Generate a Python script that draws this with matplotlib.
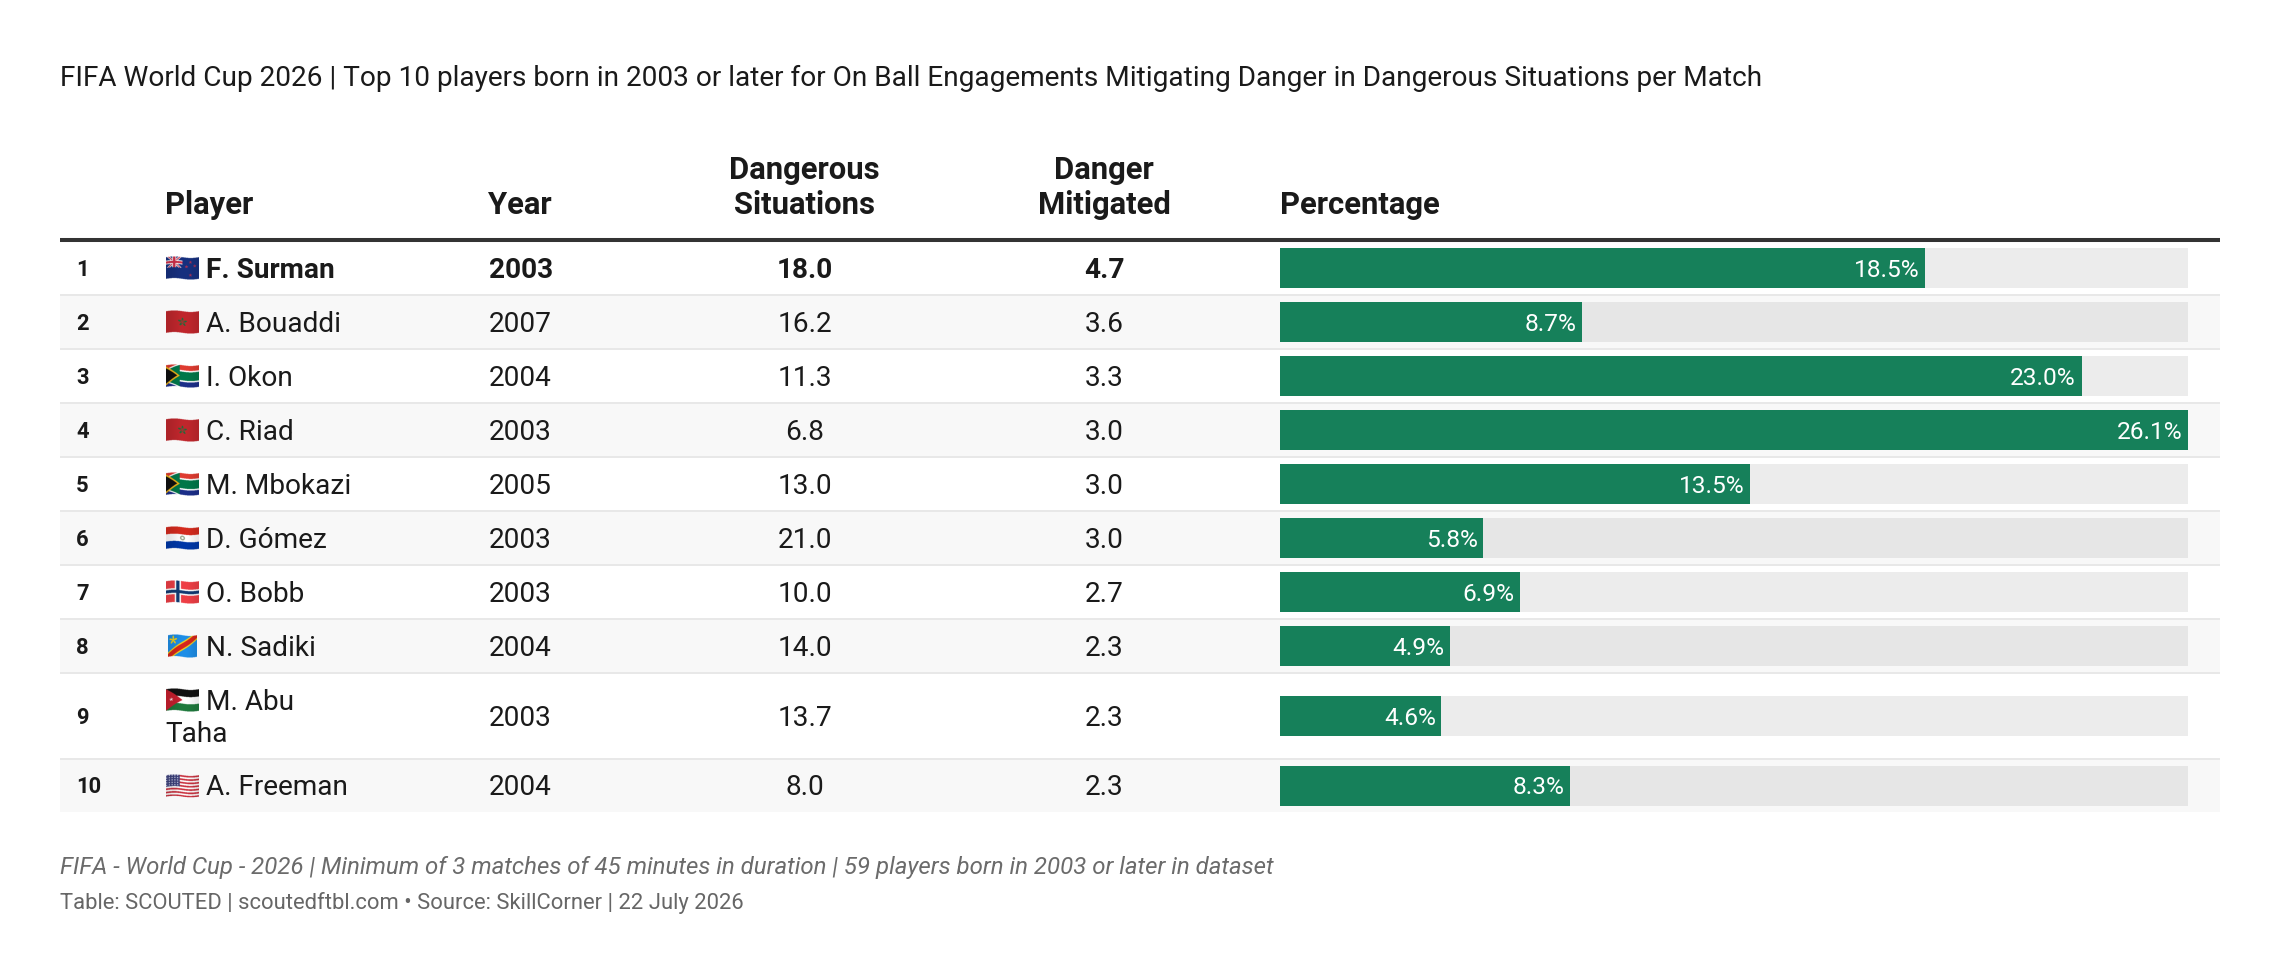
# Table of the top 10 young players with flags and percentage bars
import numpy as np
import matplotlib
matplotlib.use("Agg")
import matplotlib.pyplot as plt
from matplotlib.colors import to_rgb

plt.rcParams['font.family'] = ['Roboto', 'DejaVu Sans']

ranks = [1, 2, 3, 4, 5, 6, 7, 8, 9, 10]
players = ["F. Surman", "A. Bouaddi", "I. Okon", "C. Riad", "M. Mbokazi", "D. Gómez",
           "O. Bobb", "N. Sadiki", "M. Abu\nTaha", "A. Freeman"]
countries = ["nz", "mar", "rsa", "mar", "rsa", "par", "nor", "cod", "jor", "usa"]
years = [2003, 2007, 2004, 2003, 2005, 2003, 2003, 2004, 2003, 2004]
situations = [18.0, 16.2, 11.3, 6.8, 13.0, 21.0, 10.0, 14.0, 13.7, 8.0]
mitigated = [4.7, 3.6, 3.3, 3.0, 3.0, 3.0, 2.7, 2.3, 2.3, 2.3]
# bar lengths, the labels are the rounded figures printed on them
percentage = [18.54, 8.69, 23.04, 26.1, 13.51, 5.84, 6.9, 4.89, 4.64, 8.34]
percentLabels = ["18.5%", "8.7%", "23.0%", "26.1%", "13.5%", "5.8%", "6.9%", "4.9%", "4.6%", "8.3%"]
title = ("FIFA World Cup 2026 | Top 10 players born in 2003 or later for "
         "On Ball Engagements Mitigating Danger in Dangerous Situations per Match")
note = "FIFA - World Cup - 2026 | Minimum of 3 matches of 45 minutes in duration | 59 players born in 2003 or later in dataset"
source = "Table: SCOUTED | scoutedftbl.com • Source: SkillCorner | 22 July 2026"

WIDTH, HEIGHT = 2280, 976
LEFT, RIGHT = 60, 2220
BAR_LEFT, BAR_RIGHT = 1280, 2188
TOP = 241
INK = "#1a1a1a"
GREEN = "#16805a"

fig = plt.figure(figsize=(WIDTH / 100, HEIGHT / 100), dpi=100, facecolor="white")
# one axes in pixels of the figure for the table layout
ax = fig.add_axes([0, 0, 1, 1])
ax.axis("off")


def txt(x, y, s, px, **kw):
    # y is the middle of the capitals, px the font size in pixels
    kw.setdefault("color", INK)
    ax.text(x, y + 0.355 * px, s, fontsize=px * 0.72, va="baseline", **kw)


def starMask(u, v, cu, cv, r):
    dx = (u - cu) * 33 / 23
    dy = v - cv
    return np.hypot(dx, dy) < r * (0.62 + 0.38 * np.cos(5 * (np.arctan2(dx, -dy))))


def paint(img, mask, color):
    img[mask] = to_rgb(color)


def flagPixels(code, u, v):
    img = np.zeros(u.shape + (3,))
    if code == "mar":
        paint(img, np.ones_like(u, bool), "#c1272d")
        paint(img, starMask(u, v, .5, .5, .2), "#1f6b3a")
        paint(img, starMask(u, v, .5, .5, .09), "#c1272d")
    elif code == "nz":
        paint(img, np.ones_like(u, bool), "#17307f")
        cu, cv = u < .5, v < .5
        du, dv = (u - .25) * 33 / 23, v - .25
        paint(img, cu & cv & ((np.abs(du - dv) < .07) | (np.abs(du + dv) < .07)), "#ffffff")
        paint(img, cu & cv & ((np.abs(du - dv) < .03) | (np.abs(du + dv) < .03)), "#d0304a")
        paint(img, cu & cv & ((np.abs(du) < .09) | (np.abs(dv) < .09)), "#ffffff")
        paint(img, cu & cv & ((np.abs(du) < .05) | (np.abs(dv) < .05)), "#d0304a")
        for su, sv in [(.74, .2), (.62, .42), (.87, .38), (.74, .8)]:
            paint(img, starMask(u, v, su, sv, .07), "#d0304a")
    elif code == "rsa":
        paint(img, v < .5, "#e03c31")
        paint(img, v >= .5, "#1c2f8a")
        dist = np.abs(v - .5)
        arm = np.abs(dist - u * .62)
        ymask = ((u < .42) & (arm < .24)) | ((u >= .3) & (dist < .2))
        paint(img, ((u < .42) & (arm < .3)) | ((u >= .3) & (dist < .27)), "#ffffff")
        paint(img, ymask, "#00784a")
        tri = dist < (.42 - u) * 1.05
        paint(img, tri, "#f2b619")
        paint(img, dist < (.34 - u) * 1.05, "#111111")
    elif code == "par":
        paint(img, v < 1 / 3, "#d52b1e")
        paint(img, (v >= 1 / 3) & (v < 2 / 3), "#ffffff")
        paint(img, v >= 2 / 3, "#0038a8")
        paint(img, np.hypot((u - .5) * 33 / 23, v - .5) < .11, "#9aa88c")
        paint(img, np.hypot((u - .5) * 33 / 23, v - .5) < .05, "#ffffff")
    elif code == "nor":
        paint(img, np.ones_like(u, bool), "#ef3f46")
        du, dv = (u - .36) * 33 / 23, v - .5
        paint(img, (np.abs(du) < .14) | (np.abs(dv) < .14), "#ffffff")
        paint(img, (np.abs(du) < .07) | (np.abs(dv) < .07), "#123a73")
    elif code == "cod":
        paint(img, np.ones_like(u, bool), "#1e8fe8")
        d = (1 - v) - u * 1.0
        paint(img, np.abs(d) < .2, "#f7d518")
        paint(img, np.abs(d) < .13, "#d8261c")
        paint(img, starMask(u, v, .18, .25, .2), "#f7d518")
    elif code == "jor":
        paint(img, v < 1 / 3, "#111111")
        paint(img, (v >= 1 / 3) & (v < 2 / 3), "#ffffff")
        paint(img, v >= 2 / 3, "#1f7a3d")
        paint(img, np.abs(v - .5) < (.5 - u) * 1.0, "#c8202f")
        paint(img, starMask(u, v, .16, .5, .08), "#ffffff")
    elif code == "usa":
        paint(img, np.floor(v * 13) % 2 == 0, "#c9303e")
        paint(img, np.floor(v * 13) % 2 == 1, "#ffffff")
        paint(img, (u < .42) & (v < 7 / 13), "#3a3f7a")
        dots = (np.floor(u * 24) % 2 == 0) & (np.floor(v * 18) % 2 == 0)
        paint(img, (u < .42) & (v < 7 / 13) & dots, "#c8cbe4")
    return img


def drawFlag(code, cx, cy):
    # waving flag emoji as a small image, 4 times oversampled
    w = 29 if code == "cod" else 33
    h = 24
    ys, xs = np.mgrid[0:h * 4, 0:w * 4]
    x = (xs + .5) / (w * 4)
    y = (ys + .5) / (h * 4)
    u = x
    v = (y - .5) / .9 + .5 + .035 * np.sin(2 * np.pi * x)
    rgb = flagPixels(code, u, np.clip(v, 0, 1))
    shade = 1 - .1 * (.5 + .5 * np.sin(2 * np.pi * x + 1.2))
    rgba = np.dstack([rgb * shade[..., None], ((v >= 0) & (v <= 1)).astype(float)])
    ax.imshow(rgba, extent=(cx - w / 2, cx + w / 2, cy + h / 2, cy - h / 2),
              aspect="auto", zorder=3, interpolation="antialiased")


# row tops come from the row heights, row 9 wraps on two lines
rowHeights = [54, 54, 54, 54, 54, 54, 54, 54, 86, 53]
rowEdges = [TOP + 0.0]
for rowH in rowHeights:
    rowEdges.append(rowEdges[-1] + rowH)
rowMid = [(a + b) / 2 for a, b in zip(rowEdges[:-1], rowEdges[1:])]

HEAD = dict(fontweight="bold")
txt(LEFT, 75.8, title, 28)
txt(165, 203, "Player", 31, **HEAD)
txt(488.5, 203, "Year", 31, **HEAD)
txt(804.5, 167.5, "Dangerous", 31, ha="center", **HEAD)
txt(804.5, 203, "Situations", 31, ha="center", **HEAD)
txt(1104, 167.5, "Danger", 31, ha="center", **HEAD)
txt(1104, 203, "Mitigated", 31, ha="center", **HEAD)
txt(1280, 203, "Percentage", 31, **HEAD)

for i in range(len(players)):
    top, bottom = rowEdges[i], rowEdges[i + 1]
    striped = i % 2 == 1
    if striped:
        ax.fill_between([LEFT, RIGHT], top, bottom, color="#f8f8f8", lw=0, zorder=0)
    if i < len(players) - 1:
        ax.plot([LEFT, RIGHT], [bottom, bottom], color="#e8e8e8", lw=1.44, zorder=1,
                solid_capstyle="butt")
    mid = rowMid[i]
    weight = "bold" if i == 0 else "normal"
    txt(76, mid, str(ranks[i]), 22, fontweight="bold")
    lines = players[i].split("\n")
    if len(lines) == 1:
        drawFlag(countries[i], 182.5, mid + 0.5)
        txt(206.5, mid, lines[0], 28, fontweight=weight)
    else:
        drawFlag(countries[i], 182.5, mid - 16)
        txt(206.5, mid - 16, lines[0], 28, fontweight=weight)
        txt(165, mid + 16, lines[1], 28, fontweight=weight)
    txt(488.5, mid, str(years[i]), 28, fontweight=weight)
    txt(805, mid, f"{situations[i]:.1f}", 28, fontweight=weight, ha="center")
    txt(1104.5, mid, f"{mitigated[i]:.1f}", 28, fontweight=weight, ha="center")

ax.plot([LEFT, RIGHT], [TOP - 1, TOP - 1], color="#333333", lw=2.9, zorder=2, solid_capstyle="butt")

txt(LEFT, 865.5, note, 24, style="italic", color="#6b6b6b")
txt(LEFT, 901.2, source, 21.95, color="#666666")

ax.set_xlim(0, WIDTH)
ax.set_ylim(HEIGHT, 0)

# bars on their own axes: x in percent, y shares the pixel rows
barAx = fig.add_axes([BAR_LEFT / WIDTH, 0, (BAR_RIGHT - BAR_LEFT) / WIDTH, 1])
barAx.patch.set_alpha(0)
barAx.axis("off")
barAx.set_xlim(0, max(percentage))
barAx.set_ylim(HEIGHT, 0)
trackColors = ["#e6e6e6" if i % 2 == 1 else "#ececec" for i in range(len(percentage))]
barAx.barh(rowMid, [max(percentage)] * len(percentage), height=40, color=trackColors, lw=0)
barAx.barh(rowMid, percentage, height=40, color=GREEN, lw=0)
for y, pct, label in zip(rowMid, percentage, percentLabels):
    barAx.annotate(label, (pct, y + 0.355 * 24.5), xytext=(-5.5, 0), textcoords="offset pixels",
                   ha="right", va="baseline", color="white", fontsize=24.5 * 0.72)

fig.savefig("out.png", dpi=100)
